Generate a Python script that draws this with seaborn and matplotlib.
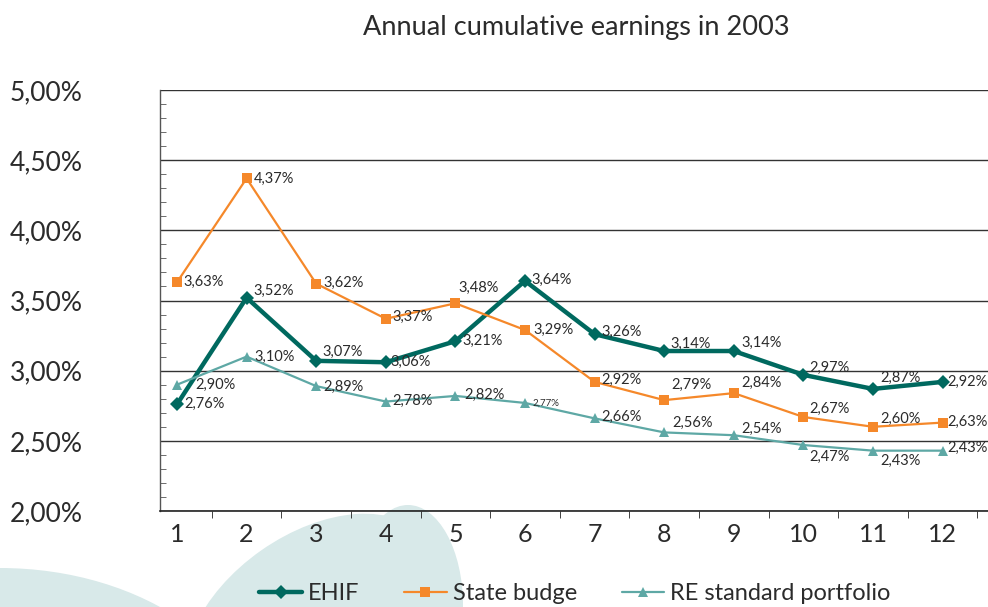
import matplotlib
matplotlib.use("Agg")
import matplotlib.pyplot as plt
from matplotlib.patches import Ellipse
from matplotlib.ticker import MultipleLocator, FixedLocator, FuncFormatter
import pandas as pd
import seaborn as sns

# values (percent)
months = [1, 2, 3, 4, 5, 6, 7, 8, 9, 10, 11, 12]
ehif = [2.76, 3.52, 3.07, 3.06, 3.21, 3.64, 3.26, 3.14, 3.14, 2.97, 2.87, 2.92]
state_budge = [3.63, 4.37, 3.62, 3.37, 3.48, 3.29, 2.92, 2.79, 2.84, 2.67, 2.60, 2.63]
re_portfolio = [2.90, 3.10, 2.89, 2.78, 2.82, 2.77, 2.66, 2.56, 2.54, 2.47, 2.43, 2.43]
series_names = ["EHIF", "State budge", "RE standard portfolio"]
y_ticks = [2.0, 2.5, 3.0, 3.5, 4.0, 4.5, 5.0]
title = "Annual cumulative earnings in 2003"

# label nudges in pixels (dx, dy)
ehif_off = [(7, 0), (7, 7), (6, 9), (5, 0), (7, 0), (6, 1), (7, 2), (6, 7), (8, 8), (6, 7), (7, 11), (5, 0)]
state_off = [(6, 0), (7, 0), (7, 1), (7, 2), (3, 15), (8, 0), (7, 2), (7, 15), (8, 10), (6, 8), (7, 8), (5, 1)]
re_off = [(18, 0), (8, 0), (7, -1), (7, 1), (9, 1), (8, 0), (7, 1), (8, 10), (8, 6), (6, -12), (7, -10), (5, 3)]

sns.set_style("white")
plt.rcParams["font.family"] = ["Lato", "DejaVu Sans"]
txt = "#2b2b2b"

fig = plt.figure(figsize=(9.88, 6.07), dpi=100)

# decorative leaves behind the chart
bg = fig.add_axes([0, 0, 1, 1], zorder=0)
bg.set_xlim(0, 988)
bg.set_ylim(607, 0)
bg.axis("off")
leaf = "#d8e9e9"
bg.add_patch(Ellipse((408, 605), 110, 200, angle=0, color=leaf, lw=0))
bg.add_patch(Ellipse((310, 620), 280, 170, angle=-35, color=leaf, lw=0))
bg.add_patch(Ellipse((0, 760), 530, 384, angle=0, color=leaf, lw=0))

ax = fig.add_axes([160 / 988, 1 - 511 / 607, 828 / 988, 421 / 607], zorder=1)
ax.set_facecolor("none")

df = pd.DataFrame({"month": months, series_names[0]: ehif,
                   series_names[1]: state_budge, series_names[2]: re_portfolio})

styles = {
    series_names[0]: dict(color="#00695f", marker="D", lw=3.2, ms=7.5),
    series_names[1]: dict(color="#f5882a", marker="s", lw=1.6, ms=7),
    series_names[2]: dict(color="#5ea8a5", marker="^", lw=1.6, ms=7.5),
}
for name in series_names:
    st = styles[name]
    sns.lineplot(data=df, x="month", y=name, ax=ax, label=name, color=st["color"],
                 marker=st["marker"], markersize=st["ms"], linewidth=st["lw"],
                 markeredgewidth=0, zorder=3)

def fmt(v):
    return f"{v:.2f}".replace(".", ",") + "%"

for vals, offs in [(ehif, ehif_off), (state_budge, state_off), (re_portfolio, re_off)]:
    for i, (m, v) in enumerate(zip(months, vals)):
        size = 7 if (vals is re_portfolio and i == 5) else 10.5
        ax.annotate(fmt(v), (m, v), xytext=offs[i], textcoords="offset pixels",
                    ha="left", va="center", fontsize=size, color=txt, zorder=4)

ax.set_xlim(0.756, 12.652)
ax.set_ylim(2.0, 5.0)
ax.yaxis.set_major_locator(FixedLocator(y_ticks))
ax.yaxis.set_minor_locator(MultipleLocator(0.1))
ax.yaxis.set_major_formatter(FuncFormatter(lambda v, p: fmt(v)))
ax.set_xticks(months)
ax.xaxis.set_minor_locator(MultipleLocator(1.0, offset=0.5))
ax.grid(axis="y", which="major", color="#333333", lw=1.0)
ax.set_axisbelow(True)
ax.set_xlabel("")
ax.set_ylabel("")
ax.legend_.remove()

for s in ["top", "right"]:
    ax.spines[s].set_visible(False)
ax.spines["left"].set_color("#555555")
ax.spines["bottom"].set_color("#222222")
ax.spines["left"].set_linewidth(1.0)
ax.spines["bottom"].set_linewidth(1.2)

ax.tick_params(axis="y", which="major", length=0, pad=108, labelsize=19, labelcolor=txt)
for lab in ax.get_yticklabels():
    lab.set_horizontalalignment("left")
ax.tick_params(axis="y", which="minor", direction="in", length=4, color="#555555", left=True)
ax.tick_params(axis="x", which="major", length=0, pad=9, labelsize=18, labelcolor=txt)
ax.tick_params(axis="x", which="minor", direction="out", length=5, color="#222222", bottom=True)

fig.text(576 / 988, 1 - 28 / 607, title, ha="center", va="center", fontsize=19.5, color=txt)

handles, labels = ax.get_legend_handles_labels()
fig.legend(handles, labels, loc="center", bbox_to_anchor=(575 / 988, 1 - 594 / 607), ncol=3,
           frameon=False, fontsize=17, handlelength=1.8, handletextpad=0.25, columnspacing=1.9,
           labelcolor=txt)

fig.savefig("out.png", dpi=100)
